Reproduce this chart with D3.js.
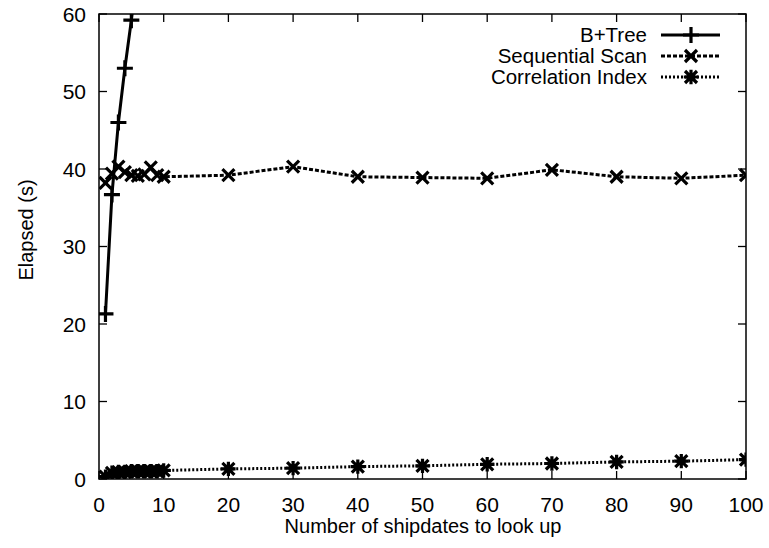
<!DOCTYPE html>
<html>
<head>
<meta charset="utf-8">
<script src="https://cdn.jsdelivr.net/npm/d3@7"></script>
<style>
  body { margin: 0; background: #fff; }
  text { font-family: "Liberation Sans", Arial, sans-serif; fill: #000; }
</style>
</head>
<body>
<script>
let w = 769;
let h = 548;
let margin = { top: 14, right: 23, bottom: 69, left: 99 };

// data
let btreeX = [1, 2, 3, 4, 5, 6];
let btreeY = [21.3, 36.7, 46.0, 53.0, 59.2, 66];

let seqX = [1, 2, 3, 4, 5, 6, 7, 8, 9, 10, 20, 30, 40, 50, 60, 70, 80, 90, 100];
let seqY = [38.2, 39.4, 40.3, 39.6, 39.2, 39.1, 39.3, 40.2, 39.2, 39.0, 39.2, 40.3, 39.0, 38.9, 38.8, 39.9, 39.0, 38.8, 39.2];

let corrX = [1, 2, 3, 4, 5, 6, 7, 8, 9, 10, 20, 30, 40, 50, 60, 70, 80, 90, 100];
let corrY = [0.3, 0.8, 0.9, 0.9, 1.0, 1.0, 1.0, 1.0, 1.0, 1.1, 1.3, 1.4, 1.6, 1.7, 1.9, 2.0, 2.2, 2.3, 2.5];

let xTicks = [0, 10, 20, 30, 40, 50, 60, 70, 80, 90, 100];
let yTicks = [0, 10, 20, 30, 40, 50, 60];

let seriesNames = ['B+Tree', 'Sequential Scan', 'Correlation Index'];

let xScale = d3.scaleLinear()
  .domain([0, 100])
  .range([margin.left, w - margin.right]);

let yScale = d3.scaleLinear()
  .domain([0, 60])
  .range([h - margin.bottom, margin.top]);

let svg = d3.select('body')
  .append('svg')
  .attr('width', w)
  .attr('height', h);

svg.append('clipPath')
  .attr('id', 'plot-area')
  .append('rect')
  .attr('x', margin.left)
  .attr('y', margin.top)
  .attr('width', w - margin.left - margin.right)
  .attr('height', h - margin.top - margin.bottom);

// inward ticks on all four sides, gnuplot style
let tickLen = 8;
let x0 = margin.left, x1 = w - margin.right;
let y0 = h - margin.bottom, y1 = margin.top;

let axes = svg.append('g').attr('stroke', '#000').attr('stroke-width', 1.3);
yTicks.forEach((t) => {
  let y = yScale(t);
  axes.append('line').attr('x1', x0).attr('x2', x0 + tickLen).attr('y1', y).attr('y2', y);
  axes.append('line').attr('x1', x1).attr('x2', x1 - tickLen).attr('y1', y).attr('y2', y);
});
xTicks.forEach((t) => {
  let x = xScale(t);
  axes.append('line').attr('x1', x).attr('x2', x).attr('y1', y0).attr('y2', y0 - tickLen);
  axes.append('line').attr('x1', x).attr('x2', x).attr('y1', y1).attr('y2', y1 + tickLen);
});

svg.append('g')
  .selectAll('text')
  .data(yTicks)
  .enter()
  .append('text')
  .attr('x', x0 - 13)
  .attr('y', (d) => yScale(d))
  .attr('dy', '0.36em')
  .attr('text-anchor', 'end')
  .attr('font-size', 21)
  .text((d) => d);

svg.append('g')
  .selectAll('text')
  .data(xTicks)
  .enter()
  .append('text')
  .attr('x', (d) => xScale(d))
  .attr('y', 512)
  .attr('text-anchor', 'middle')
  .attr('font-size', 21)
  .text((d) => d);

svg.append('text')
  .attr('transform', 'translate(33, 230) rotate(-90)')
  .attr('text-anchor', 'middle')
  .attr('font-size', 20)
  .text('Elapsed (s)');

svg.append('text')
  .attr('x', 423)
  .attr('y', 533)
  .attr('text-anchor', 'middle')
  .attr('font-size', 20)
  .text('Number of shipdates to look up');

// markers
function plusPath(s) { return `M${-s},0H${s}M0,${-s}V${s}`; }
function crossPath(s) { return `M${-s},${-s}L${s},${s}M${-s},${s}L${s},${-s}`; }
function starPath(s) { return crossPath(s) + `M${-s * 1.2},0H${s * 1.2}M0,${-s * 1.2}V${s * 1.2}`; }

let series = [
  { xs: btreeX, ys: btreeY, dash: null, marker: (s) => plusPath(s), size: 8 },
  { xs: seqX, ys: seqY, dash: '4,2', marker: (s) => crossPath(s), size: 6 },
  { xs: corrX, ys: corrY, dash: '2,2', marker: (s) => starPath(s), size: 6 }
];

let line = d3.line()
  .x((d) => xScale(d[0]))
  .y((d) => yScale(d[1]));

let plot = svg.append('g').attr('clip-path', 'url(#plot-area)');

series.forEach((s) => {
  let pts = s.xs.map((x, i) => [x, s.ys[i]]);
  plot.append('path')
    .datum(pts)
    .attr('d', line)
    .attr('fill', 'none')
    .attr('stroke', '#000')
    .attr('stroke-width', 3)
    .attr('stroke-dasharray', s.dash);
  plot.append('g')
    .selectAll('path')
    .data(pts)
    .enter()
    .append('path')
    .attr('transform', (d) => 'translate(' + xScale(d[0]) + ',' + yScale(d[1]) + ')')
    .attr('d', s.marker(s.size))
    .attr('fill', 'none')
    .attr('stroke', '#000')
    .attr('stroke-width', 3.2);
});

// frame
svg.append('rect')
  .attr('x', x0)
  .attr('y', y1)
  .attr('width', x1 - x0)
  .attr('height', y0 - y1)
  .attr('fill', 'none')
  .attr('stroke', '#000')
  .attr('stroke-width', 1.5);

// legend
let legend = svg.append('g');
series.forEach((s, i) => {
  let y = 35 + i * 21;
  legend.append('text')
    .attr('x', 647)
    .attr('y', y)
    .attr('dy', '0.36em')
    .attr('text-anchor', 'end')
    .attr('font-size', 20.5)
    .text(seriesNames[i]);
  legend.append('line')
    .attr('x1', 661)
    .attr('x2', 720)
    .attr('y1', y)
    .attr('y2', y)
    .attr('stroke', '#000')
    .attr('stroke-width', 3)
    .attr('stroke-dasharray', s.dash);
  legend.append('path')
    .attr('transform', 'translate(691,' + y + ')')
    .attr('d', s.marker(s.size))
    .attr('fill', 'none')
    .attr('stroke', '#000')
    .attr('stroke-width', 3.2);
});
</script>
</body>
</html>
